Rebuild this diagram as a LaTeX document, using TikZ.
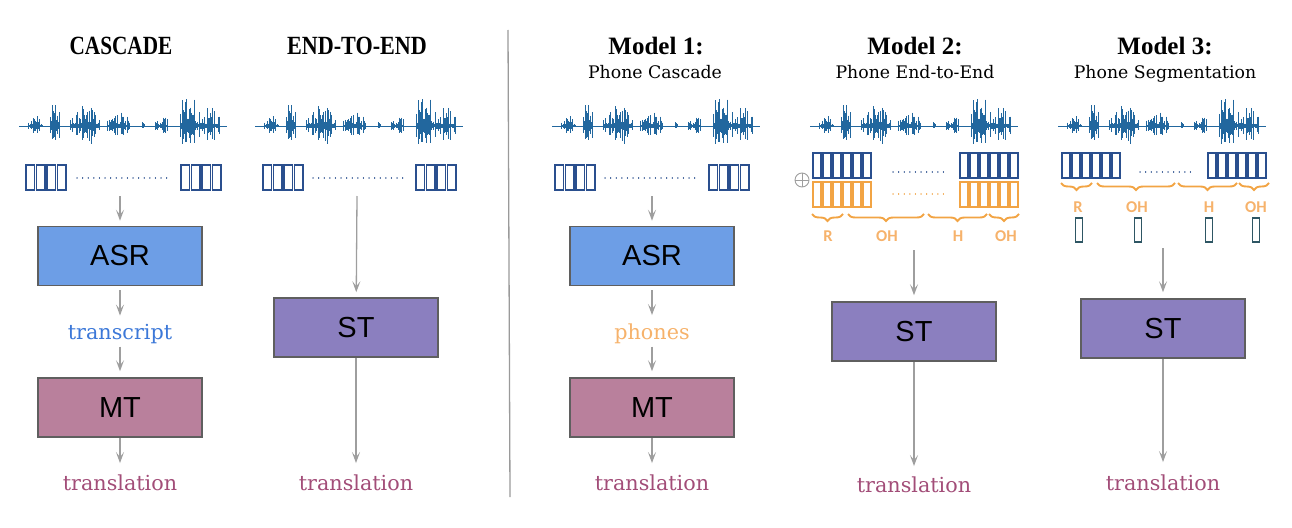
\documentclass[tikz,border=0pt]{standalone}
\usepackage{fontspec}
\usetikzlibrary{arrows.meta,decorations.pathreplacing}
\newfontfamily\ttlfont{Liberation Serif}
\newfontfamily\bodyfont{DejaVu Serif}
\newfontfamily\boxfont{Liberation Sans}
\newfontfamily\lblfont{Carlito}
\definecolor{wavec}{HTML}{22679E}
\definecolor{framec}{HTML}{2A4F8E}
\definecolor{tealc}{HTML}{2E5664}
\definecolor{orangec}{HTML}{F2A444}
\definecolor{orangel}{HTML}{F6B26B}
\definecolor{asrc}{HTML}{6D9EE6}
\definecolor{mtc}{HTML}{B9809C}
\definecolor{stc}{HTML}{8B7FBF}
\definecolor{boxborder}{HTML}{5F5F5F}
\definecolor{arrc}{HTML}{9E9E9E}
\definecolor{trc}{HTML}{3C78D8}
\definecolor{outc}{HTML}{A24D78}
\definecolor{sepc}{HTML}{9A9A9A}
\tikzset{
  box/.style={draw=boxborder, line width=1.5, minimum width=164, minimum height=59, inner sep=0,
    font=\boxfont\fontsize{29}{29}\selectfont},
  arr/.style={draw=arrc, line width=1.3, -{Stealth[length=11,width=8,inset=5]}},
  ttl/.style={font=\ttlfont\bfseries\fontsize{25}{25}\selectfont, anchor=base, inner sep=0},
  subttl/.style={font=\bodyfont\fontsize{17.3}{17.3}\selectfont, anchor=base, inner sep=0},
  midtext/.style={font=\bodyfont\fontsize{20.7}{20.7}\selectfont, anchor=base, inner sep=0},
  lbl/.style={font=\lblfont\bfseries\fontsize{16.5}{16.5}\selectfont, text=orangel, anchor=base, inner sep=0},
  frm/.style={line width=1.4},
  dotl/.style={line width=1.2, line cap=round, dash pattern=on 0.1pt off 5.5pt},
  brc/.style={draw=orangec, line width=1.9, decorate, decoration={brace, mirror, amplitude=7}},
}
\newcommand\wavef[2]{%
  \begin{scope}[shift={(#1,#2)}]
    \pgfmathsetseed{11}
    \draw[wavec, line width=0.9] (0,0) -- (208,0);
    \foreach \a/\b/\m in {9/24/11, 31/41/30, 51/81/21, 88/111/14, 123/126/6, 136/149/11, 161/178/34, 178/201/20}{
      \pgfmathsetmacro\n{int(1.4*(\b-\a))}
      \foreach \j in {0,...,\n}{
        \pgfmathsetmacro\k{\a+\j/1.4}
        \pgfmathsetmacro\e{\m*(0.55+0.45*sin(180*(\k-\a+0.5)/(\b-\a+1)))}
        \pgfmathsetmacro\r{rnd}
        \pgfmathsetmacro\hu{min(\e*(0.12+0.88*\r*\r),30)}
        \pgfmathsetmacro\hd{\hu*(0.6+0.4*rnd)}
        \draw[wavec, line width=0.8] (\k,-\hu) -- (\k,\hd);
      }
    }
  \end{scope}}
\newcommand\frameset[5]{%
  \foreach \i in {1,...,#3}{
    \draw[frm, draw=#5] ({#1+(\i-1)*#4+0.9},#2) rectangle ++({#4-1.8},25);
  }}
\begin{document}
\begin{tikzpicture}[x=1pt,y=-1pt]
\useasboundingbox (0,0) rectangle (1292,527);

% ---------- separator
\coordinate (septop) at (508,30);
\coordinate (sepbot) at (510,497);
\draw[sepc, line width=1.3] (septop) -- (sepbot);

% ---------- column 1: CASCADE
\node[ttl] (t1) at (121,55) {\scalebox{0.85}[1.05]{CASCADE}};
\wavef{19}{126}
\frameset{25}{165}{4}{10.5}{framec}
\frameset{180}{165}{4}{10.5}{framec}
\draw[framec, dotl] (77,178) -- (168,178);
\coordinate (f1) at (120,196);
\node[box, fill=asrc] (asr1) at (120,256) {ASR};
\node[midtext, text=trc] (tr1) at (120,339) {transcript};
\node[box, fill=mtc] (mt1) at (120,407.5) {MT};
\node[midtext, text=outc] (out1) at (120,490) {translation};
\draw[arr, shorten >=5] (f1) -- (asr1);
\draw[arr, shorten <=4, shorten >=8] (asr1) -- (tr1);
\draw[arr, shorten <=3, shorten >=6] (tr1) -- (mt1);
\draw[arr, shorten >=11] (mt1) -- (out1);

% ---------- column 2: END-TO-END
\node[ttl] (t2) at (357,55) {\scalebox{0.885}[1.05]{END-TO-END}};
\wavef{255}{126}
\frameset{262}{165}{4}{10.5}{framec}
\frameset{415}{165}{4}{10.5}{framec}
\draw[framec, dotl] (313,178) -- (403,178);
\coordinate (f2) at (357,196);
\node[box, fill=stc] (st2) at (356,327.5) {ST};
\node[midtext, text=outc] (out2) at (356,490) {translation};
\draw[arr, shorten >=5] (f2) -- (st2);
\draw[arr, shorten >=11] (st2) -- (out2);

% ---------- column 3: Model 1
\node[ttl] (t3) at (656,55) {Model 1:};
\node[subttl] (s3) at (655,78) {Phone Cascade};
\wavef{552}{126}
\frameset{554}{165}{4}{10.5}{framec}
\frameset{708}{165}{4}{10.5}{framec}
\draw[framec, dotl] (605,178) -- (697,178);
\coordinate (f3) at (652,196);
\node[box, fill=asrc] (asr3) at (652,256) {ASR};
\node[midtext, text=orangel] (ph3) at (652,339) {phones};
\node[box, fill=mtc] (mt3) at (652,407.5) {MT};
\node[midtext, text=outc] (out3) at (652,490) {translation};
\draw[arr, shorten >=5] (f3) -- (asr3);
\draw[arr, shorten <=4, shorten >=8] (asr3) -- (ph3);
\draw[arr, shorten <=3, shorten >=6] (ph3) -- (mt3);
\draw[arr, shorten >=11] (mt3) -- (out3);

% ---------- column 4: Model 2
\node[ttl] (t4) at (915,55) {Model 2:};
\node[subttl] (s4) at (915,78) {Phone End-to-End};
\wavef{810}{126}
\frameset{812}{153}{6}{10}{framec}
\frameset{959}{153}{6}{10}{framec}
\frameset{812}{182}{6}{10}{orangec}
\frameset{959}{182}{6}{10}{orangec}
\draw[framec, dotl] (893,172) -- (947,172);
\draw[orangec, dotl] (893,194) -- (947,194);
\node[circle, draw=arrc, line width=0.9, minimum size=14, inner sep=0] (oplus) at (802,180) {};
\draw[arrc, line width=0.9] (oplus.west) -- (oplus.east);
\draw[arrc, line width=0.9] (oplus.north) -- (oplus.south);
\draw[brc] (812,214) -- (843,214);
\draw[brc] (848,214) -- (924,214);
\draw[brc] (928,214) -- (987,214);
\draw[brc] (989,214) -- (1019,214);
\node[lbl] (r4a) at (828,241) {R};
\node[lbl] (r4b) at (887,241) {OH};
\node[lbl] (r4c) at (958,241) {H};
\node[lbl] (r4d) at (1006,241) {OH};
\coordinate (f4) at (914,250);
\node[box, fill=stc] (st4) at (914,331.5) {ST};
\node[midtext, text=outc] (out4) at (914,492) {translation};
\draw[arr, shorten >=6] (f4) -- (st4);
\draw[arr, shorten >=10] (st4) -- (out4);

% ---------- column 5: Model 3
\node[ttl] (t5) at (1165,55) {Model 3:};
\node[subttl] (s5) at (1165,78) {Phone Segmentation};
\wavef{1058}{126}
\frameset{1061}{153}{6}{10}{framec}
\frameset{1207}{153}{6}{10}{framec}
\draw[framec, dotl] (1140,172) -- (1192,172);
\draw[brc] (1061,183) -- (1092,183);
\draw[brc] (1097,183) -- (1175,183);
\draw[brc] (1178,183) -- (1237,183);
\draw[brc] (1239,183) -- (1269,183);
\node[lbl] (r5a) at (1078,212) {R};
\node[lbl] (r5b) at (1137,212) {OH};
\node[lbl] (r5c) at (1209,212) {H};
\node[lbl] (r5d) at (1256,212) {OH};
\foreach \cx in {1079,1138,1209,1256}{
  \draw[tealc, line width=1.3] (\cx-3.5,218) rectangle (\cx+3.5,242);
}
\coordinate (f5) at (1163,248);
\node[box, fill=stc] (st5) at (1163,328.5) {ST};
\node[midtext, text=outc] (out5) at (1163,490) {translation};
\draw[arr, shorten >=6] (f5) -- (st5);
\draw[arr, shorten >=12] (st5) -- (out5);
\end{tikzpicture}
\end{document}
